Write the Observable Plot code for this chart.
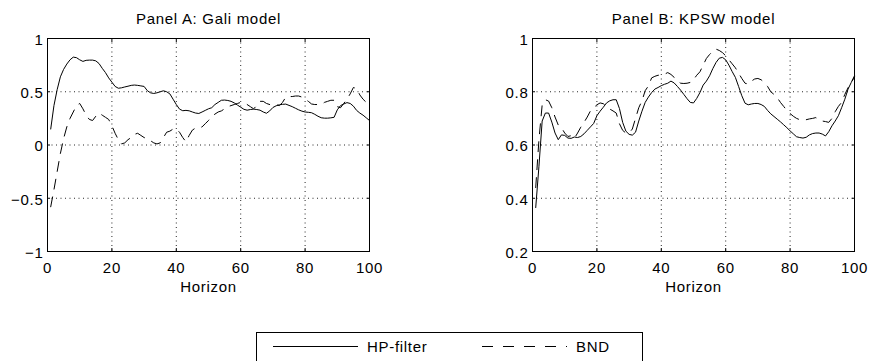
<!DOCTYPE html>
<html><head><meta charset="utf-8">
<script src="https://cdn.jsdelivr.net/npm/d3@7"></script>
<script src="https://cdn.jsdelivr.net/npm/@observablehq/plot@0.6"></script>
<style>
html,body{margin:0;padding:0;background:#fff;overflow:hidden}
#wrap{position:relative;width:869px;height:361px;overflow:hidden;font-family:"Liberation Sans",Arial,sans-serif;font-size:15px;letter-spacing:0.7px;color:#000;background:#fff}
.panel{position:absolute;top:0;width:400px;height:300px}
.panel svg{max-width:none!important}
#legend{position:absolute;left:256px;top:332px;width:387px;height:40px;border:1px solid #000;box-sizing:border-box}
#legend span{position:absolute;top:4px;line-height:20px}
#legend svg{position:absolute;left:0;top:0}
</style></head><body>
<div id="wrap">
  <div id="pa" class="panel" style="left:0"></div>
  <div id="pb" class="panel" style="left:485px"></div>
  <div id="legend">
    <svg width="387" height="40"><line x1="16" x2="101" y1="13.5" y2="13.5" stroke="#000" stroke-width="1"/><line x1="225" x2="310" y1="13.5" y2="13.5" stroke="#000" stroke-width="1" stroke-dasharray="11,10"/></svg>
    <span id="lgHPt" style="left:110px"></span>
    <span id="lgBNDt" style="left:319px"></span>
  </div>
</div>
<script>
// ---- data ----
const horizon = Array.from({length: 100}, (_, i) => i + 1);
const xTicks = [0, 20, 40, 60, 80, 100];
const xGrid = [20, 40, 60, 80];
const seriesNames = ["HP-filter", "BND"];
const titles = ["Panel A: Gali model", "Panel B: KPSW model"];
const xLabel = "Horizon";

const yTicksA = [-1, -0.5, 0, 0.5, 1];
const yGridA = [-0.5, 0, 0.5];
const yTicksB = [0.2, 0.4, 0.6, 0.8, 1];
const yGridB = [0.4, 0.6, 0.8];

const hpA = [0.15,0.37,0.52,0.64,0.71,0.76,0.80,0.825,0.82,0.80,
  0.785,0.795,0.797,0.797,0.79,0.765,0.72,0.68,0.63,0.59,
  0.55,0.533,0.537,0.545,0.552,0.56,0.563,0.56,0.555,0.55,
  0.51,0.49,0.484,0.49,0.50,0.509,0.50,0.48,0.43,0.38,
  0.337,0.322,0.325,0.321,0.31,0.30,0.296,0.31,0.325,0.34,
  0.35,0.38,0.40,0.42,0.422,0.418,0.41,0.395,0.375,0.355,
  0.335,0.327,0.333,0.337,0.333,0.327,0.31,0.298,0.32,0.352,
  0.368,0.377,0.382,0.384,0.372,0.36,0.345,0.33,0.318,0.31,
  0.307,0.303,0.288,0.27,0.256,0.252,0.252,0.255,0.26,0.33,
  0.37,0.385,0.398,0.39,0.365,0.325,0.30,0.28,0.255,0.23];

const bndA = [-0.58,-0.42,-0.25,-0.08,0.06,0.17,0.25,0.31,0.37,0.39,
  0.34,0.28,0.24,0.23,0.27,0.30,0.28,0.26,0.24,0.18,
  0.11,0.05,0.01,0.02,0.05,0.07,0.10,0.11,0.09,0.07,
  0.06,0.04,0.02,0.01,0.02,0.07,0.12,0.13,0.15,0.15,
  0.12,0.07,0.03,0.09,0.14,0.16,0.16,0.17,0.20,0.23,
  0.27,0.29,0.31,0.32,0.34,0.36,0.37,0.38,0.39,0.40,
  0.39,0.38,0.36,0.34,0.37,0.41,0.41,0.39,0.38,0.38,
  0.38,0.37,0.40,0.45,0.455,0.455,0.46,0.46,0.45,0.43,
  0.41,0.385,0.38,0.38,0.38,0.40,0.41,0.42,0.42,0.36,
  0.35,0.39,0.43,0.48,0.54,0.53,0.47,0.43,0.40,0.38];

const hpB = [0.365,0.52,0.69,0.72,0.72,0.686,0.645,0.62,0.638,0.636,
  0.626,0.625,0.63,0.628,0.632,0.642,0.655,0.668,0.681,0.71,
  0.727,0.742,0.758,0.766,0.77,0.77,0.737,0.685,0.652,0.64,
  0.637,0.648,0.69,0.727,0.76,0.78,0.797,0.81,0.816,0.823,
  0.828,0.832,0.84,0.833,0.82,0.806,0.79,0.774,0.76,0.758,
  0.775,0.797,0.825,0.84,0.86,0.887,0.91,0.926,0.929,0.92,
  0.90,0.876,0.854,0.82,0.785,0.757,0.751,0.754,0.756,0.756,
  0.752,0.745,0.73,0.717,0.707,0.697,0.687,0.676,0.665,0.653,
  0.642,0.631,0.628,0.626,0.629,0.638,0.643,0.645,0.645,0.641,
  0.634,0.65,0.672,0.69,0.71,0.74,0.772,0.81,0.835,0.86];

const bndB = [0.44,0.62,0.75,0.77,0.765,0.74,0.705,0.675,0.665,0.645,
  0.632,0.635,0.625,0.645,0.667,0.685,0.705,0.728,0.74,0.751,
  0.758,0.755,0.745,0.735,0.728,0.72,0.68,0.655,0.645,0.645,
  0.66,0.70,0.74,0.766,0.804,0.822,0.852,0.858,0.862,0.862,
  0.866,0.872,0.865,0.854,0.84,0.832,0.831,0.832,0.835,0.845,
  0.862,0.875,0.90,0.925,0.94,0.952,0.96,0.955,0.947,0.935,
  0.92,0.905,0.89,0.87,0.85,0.832,0.829,0.84,0.848,0.85,
  0.845,0.835,0.82,0.80,0.79,0.778,0.76,0.745,0.73,0.718,
  0.708,0.70,0.695,0.693,0.695,0.698,0.70,0.703,0.695,0.69,
  0.688,0.685,0.70,0.725,0.745,0.76,0.79,0.815,0.835,0.855];

// ---- drawing ----
const font = {fontFamily: '"Liberation Sans", Arial, sans-serif', fontSize: "15px", letterSpacing: "0.7px", color: "#000", background: "#fff", overflow: "visible", maxWidth: "none"};
const fmt = d3.format("~g");

function panel(title, hp, bnd, yTicks, yGrid) {
  const rows = horizon.map((h, i) => ({h, hp: hp[i], bnd: bnd[i]}));
  const yDomain = [yTicks[0], yTicks[yTicks.length - 1]];
  const blank = () => "";
  return Plot.plot({
    width: 400, height: 300,
    marginTop: 38, marginLeft: 47, marginRight: 31, marginBottom: 49,
    style: font,
    x: {domain: [xTicks[0], xTicks[xTicks.length - 1]]},
    y: {domain: yDomain},
    marks: [
      Plot.gridX(xGrid, {stroke: "#000", strokeOpacity: 0.85, strokeDasharray: "1,3.5"}),
      Plot.gridY(yGrid, {stroke: "#000", strokeOpacity: 0.85, strokeDasharray: "1,3.5"}),
      Plot.line(rows, {x: "h", y: "hp", stroke: "#000", strokeWidth: 1}),
      Plot.line(rows, {x: "h", y: "bnd", stroke: "#000", strokeWidth: 1, strokeDasharray: "10,8"}),
      Plot.frame({stroke: "#000", strokeWidth: 1}),
      Plot.axisX(xTicks, {anchor: "bottom", tickSize: 0, tickPadding: 10.5, tickFormat: fmt, label: null}),
      Plot.axisX(xTicks, {anchor: "bottom", tickSize: 3, dy: -3, tickFormat: blank, label: null}),
      Plot.axisX(xTicks, {anchor: "top", tickSize: 3, dy: 3, tickFormat: blank, label: null}),
      Plot.axisY(yTicks, {anchor: "left", tickSize: 0, tickPadding: 4, dy: 1.5, tickFormat: fmt, label: null}),
      Plot.axisY(yTicks, {anchor: "left", tickSize: 3, dx: 3, tickFormat: blank, label: null}),
      Plot.axisY(yTicks, {anchor: "right", tickSize: 3, dx: -3, tickFormat: blank, label: null}),
      Plot.text([title], {frameAnchor: "top", lineAnchor: "middle", dy: -19, fill: "#000"}),
      Plot.text([xLabel], {frameAnchor: "bottom", lineAnchor: "middle", dy: 35.5, fill: "#000"})
    ]
  });
}

document.getElementById("pa").appendChild(panel(titles[0], hpA, bndA, yTicksA, yGridA));
document.getElementById("pb").appendChild(panel(titles[1], hpB, bndB, yTicksB, yGridB));
document.getElementById("lgHPt").textContent = seriesNames[0];
document.getElementById("lgBNDt").textContent = seriesNames[1];
</script>
</body></html>
